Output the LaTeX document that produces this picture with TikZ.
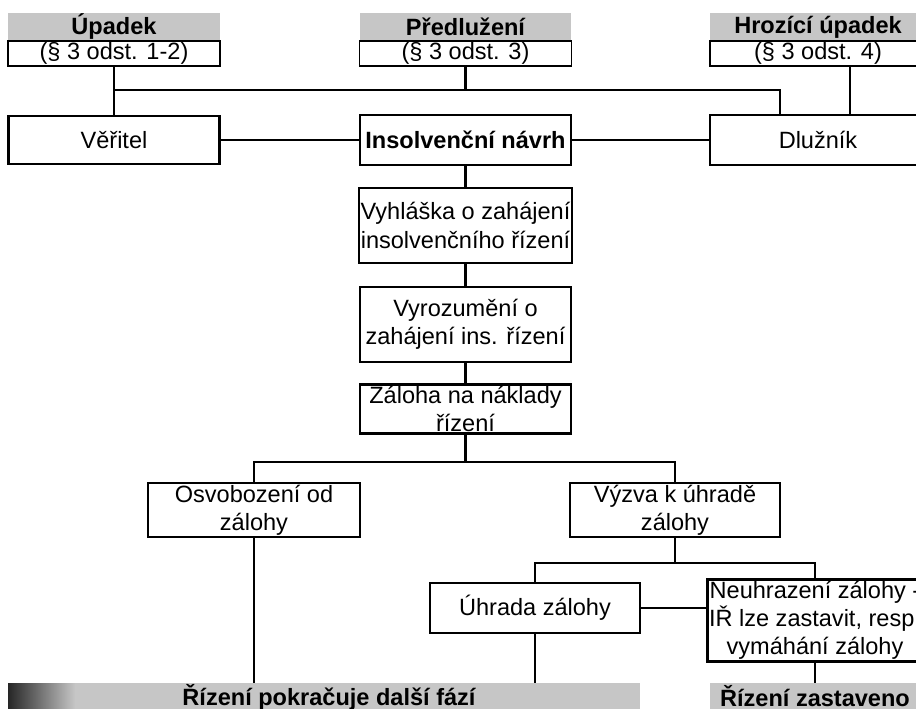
\documentclass[tikz,border=0pt]{standalone}
\usepackage{fontspec}
\setmainfont{Liberation Sans}
\usepackage{tikz}
\usetikzlibrary{positioning,calc}

\begin{document}
\begin{tikzpicture}[
    x=0.02cm, y=-0.02cm,
    font=\fontsize{13.4}{16}\selectfont,
    link/.style={line width=1.4pt},
    stepbox/.style={
        draw,
        line width=1.4pt,
        align=center,
        inner sep=1pt,
        minimum width=4.22cm,
        minimum height=1cm
    },
    tallbox/.style={stepbox, minimum height=1.5cm},
    headbar/.style={
        fill=gray!45,
        inner sep=0pt,
        minimum width=4.24cm,
        minimum height=0.56cm,
        font=\fontsize{13.4}{16}\selectfont\bfseries
    },
    headsub/.style={
        draw,
        line width=1.1pt,
        fill=white,
        inner sep=0pt,
        minimum width=4.24cm,
        minimum height=0.5cm
    },
    endbar/.style={
        fill=gray!45,
        inner sep=0pt,
        minimum height=0.6cm
    },
    endtext/.style={font=\fontsize{13.4}{16}\selectfont\bfseries}
]

\useasboundingbox (0,0) rectangle (916,709);
\clip (0,0) rectangle (916,709);

% Grounds for insolvency
\node[headbar] (uphead) at (114,27) {Úpadek};
\node[headsub] (upsub) at (114,53.5) {(§ 3 odst. 1-2)};
\node[headbar] (prhead) at (465.5,27) {Předlužení};
\node[headsub] (prsub) at (465.5,53.5) {(§ 3 odst. 3)};
\node[headbar, minimum width=4.32cm] (hrhead) at (818,27) {Hrozící úpadek};
\node[headsub, minimum width=4.32cm] (hrsub) at (818,53.5) {(§ 3 odst. 4)};

% Parties and petition
\node[stepbox, minimum height=0.96cm] (veritel) at (114,140) {Věřitel};
\node[stepbox, font=\fontsize{13.4}{16}\selectfont\bfseries] (navrh) at (465.5,140) {Insolvenční návrh};
\node[stepbox, minimum width=4.32cm] (dluznik) at (818,140) {Dlužník};

% Main chain
\node[tallbox] (vyhl) at (465.5,225.5) {Vyhláška o zahájení\\insolvenčního řízení};
\node[tallbox] (vyroz) at (465.5,324.5) {Vyrozumění o\\zahájení ins. řízení};
\node[stepbox, minimum height=0.96cm] (zaloha) at (465.5,409) {Záloha na náklady\\řízení};

% Advance
\node[stepbox, minimum width=4.24cm] (osvob) at (254,510) {Osvobození od\\zálohy};
\node[stepbox, minimum width=4.2cm] (vyzva) at (675,510) {Výzva k úhradě\\zálohy};
\node[stepbox, minimum width=4.2cm] (uhrada) at (535,608) {Úhrada zálohy};
\node[tallbox, minimum width=4.2cm] (neuhr) at (815,620.5) {Neuhrazení zálohy -\\IŘ lze zastavit, resp.\\vymáhání zálohy};

% Outcomes
\node[endbar, minimum width=12.64cm] (cont) at (324,698) {};
\shade[left color=black!85, right color=gray!45] (8,683) rectangle (75,713);
\node[endtext] (conttext) at (329,697) {Řízení pokračuje další fází};
\node[endbar, minimum width=4.2cm] (stop) at (815,698) {};
\node[endtext] (stoptext) at (815,696) {Řízení zastaveno};

% Connectors
\coordinate (bus) at (465.5,90);
\draw[link] (upsub) -- (veritel);
\draw[link] (prsub) -- (bus);
\draw[link] (upsub.south |- bus) -| ([xshift=-0.76cm]dluznik.north);
\draw[link] ([xshift=0.64cm]hrsub.south) -- ([xshift=0.64cm]dluznik.north);
\draw[link] (veritel) -- (navrh);
\draw[link] (navrh) -- (dluznik);
\draw[link] (navrh) -- (vyhl);
\draw[link] (vyhl) -- (vyroz);
\draw[link] (vyroz) -- (zaloha);

\draw[link] (zaloha.south) -- ++(0,27) coordinate (split);
\draw[link] (osvob.north) |- (split) -| (vyzva.north);
\draw[link] (vyzva.south) -- ++(0,25) coordinate (split2);
\draw[link] (uhrada.north) |- (split2) -| (neuhr.north);
\draw[link] (uhrada.east) -- (uhrada.east -| neuhr.west);

\draw[link] (osvob.south) -- (osvob.south |- cont.north);
\draw[link] (uhrada.south) -- (uhrada.south |- cont.north);
\draw[link] (neuhr) -- (stop);

\end{tikzpicture}
\end{document}
